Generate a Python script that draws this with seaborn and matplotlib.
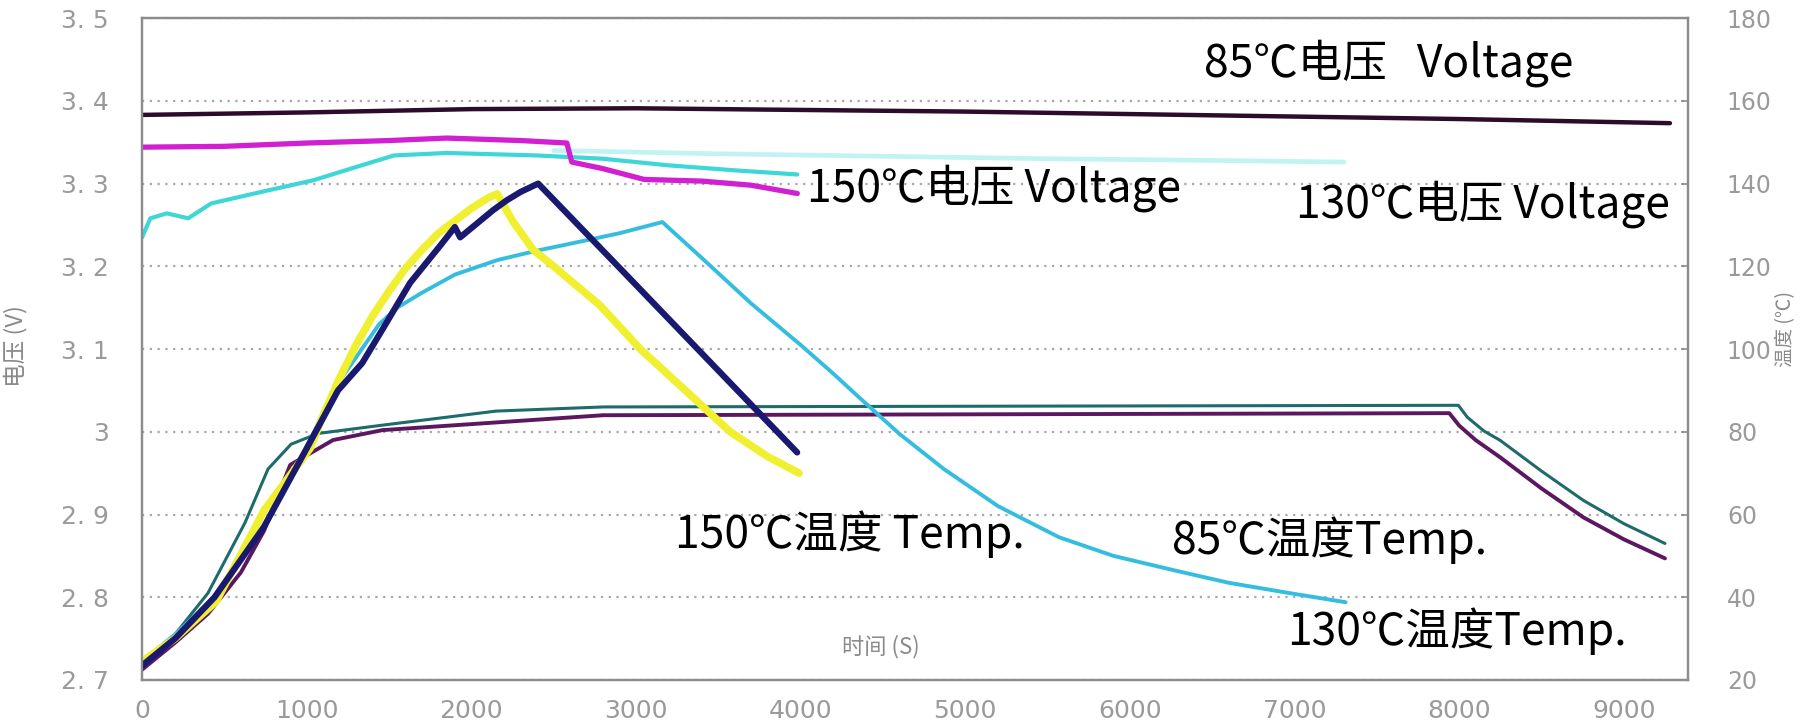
import matplotlib
matplotlib.use("Agg")
import matplotlib.pyplot as plt
import seaborn as sns
import numpy as np

# ---------------- data ----------------
# voltage series (left axis, V)
t_v85 = [0, 1000, 2000, 3000, 4000, 5000, 6000, 7000, 8000, 9280]
v_85 = [3.383, 3.386, 3.390, 3.391, 3.389, 3.387, 3.384, 3.381, 3.378, 3.373]

t_v150a = [0, 500, 1000, 1500, 1850, 2300, 2580, 2610, 2800, 3050, 3400, 3700, 3980]
v_150a = [3.344, 3.345, 3.349, 3.352, 3.355, 3.352, 3.349, 3.326, 3.318, 3.305, 3.303, 3.298, 3.288]

t_v150b = [0, 50, 150, 280, 420, 770, 1040, 1300, 1530, 1850, 2400, 2800, 3200, 3600, 3980]
v_150b = [3.235, 3.258, 3.264, 3.258, 3.276, 3.292, 3.304, 3.320, 3.334, 3.337, 3.334, 3.330, 3.322, 3.316, 3.311]

t_v130 = [2500, 3500, 4500, 5500, 6500, 7300]
v_130 = [3.340, 3.336, 3.333, 3.330, 3.328, 3.326]

# temperature series (right axis, deg C)
t_t85a = [0, 200, 400, 625, 765, 905, 1070, 1460, 2150, 2800, 7995, 8050, 8150, 8250, 8500, 8755, 9000, 9250]
T_85a = [24, 31, 41, 58, 71, 77, 79.6, 81.6, 85, 86, 86.4, 83.5, 80.2, 77.9, 70.5, 63.4, 57.8, 53]

t_t85b = [0, 200, 400, 600, 740, 900, 1160, 1460, 2800, 7940, 8000, 8100, 8250, 8500, 8755, 9000, 9250]
T_85b = [22.5, 29, 36, 46, 56, 72, 78, 80.4, 84, 84.5, 81.5, 78, 73.8, 66.3, 59.3, 54, 49.4]

t_t130 = [0, 200, 438, 741, 996, 1185, 1300, 1440, 1550, 1695, 1900, 2157, 2400, 2582, 2900, 3160,
          3400, 3700, 4000, 4200, 4350, 4600, 4870, 5200, 5570, 5900, 6270, 6600, 6970, 7310]
T_130 = [24.5, 31, 40, 57, 76, 91.5, 98, 106, 110, 113.5, 118, 121.5, 123.8, 125.3, 128, 130.7,
         122, 111, 101, 94, 88.5, 79.5, 71, 62, 54.5, 50, 46.5, 43.5, 41, 38.8]

t_t150y = [0, 200, 450, 741, 1021, 1100, 1200, 1300, 1400, 1500, 1600, 1700, 1800, 1900, 2000, 2100, 2157,
           2250, 2375, 2500, 2783, 3026, 3300, 3572, 3800, 3990]
T_150y = [24.5, 30, 39, 61, 76, 84, 93, 101, 108, 114, 119.5, 124, 128, 131, 134, 136.5, 137.5,
          131, 124, 120, 110.5, 100, 90, 80, 74, 70]

t_t150n = [0, 200, 440, 740, 1000, 1190, 1337, 1464, 1628, 1811, 1900, 1932, 2133, 2217, 2300, 2406, 2983, 3493, 3979]
T_150n = [23.5, 30, 40, 57, 76, 90, 96.6, 105, 116, 125, 129.5, 127, 133.6, 136, 138, 140, 116.2, 95.1, 75]

v_ticks = [2.7, 2.8, 2.9, 3.0, 3.1, 3.2, 3.3, 3.4, 3.5]
v_ticklabels = ["2. 7", "2. 8", "2. 9", "3", "3. 1", "3. 2", "3. 3", "3. 4", "3. 5"]
t_ticks = [20, 40, 60, 80, 100, 120, 140, 160, 180]
x_ticks = [0, 1000, 2000, 3000, 4000, 5000, 6000, 7000, 8000, 9000]

annotations = ["85℃电压   Voltage", "150℃电压 Voltage", "130℃电压 Voltage",
               "85℃温度Temp.", "150℃温度 Temp.", "130℃温度Temp."]

# ---------------- styling ----------------
sns.set_theme(style="white")
plt.rcParams["font.family"] = ["DejaVu Sans", "Noto Sans CJK SC"]
CJK = ["Noto Sans CJK SC", "DejaVu Sans"]
gray = "#8c8c8c"
tick_gray = "#9a9a9a"

fig = plt.figure(figsize=(18.1, 7.24), dpi=100)
fig.patch.set_facecolor("white")
ax = fig.add_axes([0.0785, 0.0608, 0.8541, 0.9142])
ax2 = ax.twinx()

kw = dict(sort=False, estimator=None, legend=False)
# voltage lines
sns.lineplot(x=t_v130, y=v_130, ax=ax, color="#c2f3f3", lw=3.4, **kw)
sns.lineplot(x=t_v150b, y=v_150b, ax=ax, color="#3fd6d8", lw=3.0, **kw)
sns.lineplot(x=t_v150a, y=v_150a, ax=ax, color="#d21fd2", lw=3.8, **kw)
sns.lineplot(x=t_v85, y=v_85, ax=ax, color="#2d0b2b", lw=3.2, **kw)

# temperature lines
sns.lineplot(x=t_t85a, y=T_85a, ax=ax2, color="#1e6b6b", lw=2.2, **kw)
sns.lineplot(x=t_t85b, y=T_85b, ax=ax2, color="#5b1860", lw=2.8, **kw)
sns.lineplot(x=t_t130, y=T_130, ax=ax2, color="#35bde0", lw=2.8, **kw)
sns.lineplot(x=t_t150y, y=T_150y, ax=ax2, color="#f0f030", lw=5.5, **kw)
sns.lineplot(x=t_t150n, y=T_150n, ax=ax2, color="#191970", lw=4.5, **kw)

# axes limits / ticks
ax.set_xlim(0, 9390)
ax.set_ylim(2.7, 3.5)
ax2.set_ylim(20, 180)
ax.set_xticks(x_ticks)
ax.set_xticklabels([str(v) for v in x_ticks])
ax.set_yticks(v_ticks)
ax.set_yticklabels(v_ticklabels)
ax2.set_yticks(t_ticks)
ax2.set_yticklabels([str(v) for v in t_ticks])

ax.tick_params(axis="x", direction="in", length=5, width=1.2, color=gray,
               labelsize=18, labelcolor=tick_gray, pad=14)
ax.tick_params(axis="y", length=0, labelsize=18, labelcolor=tick_gray, pad=24)
ax2.tick_params(axis="y", direction="in", length=5, width=1.2, color=gray,
                labelsize=17, labelcolor=tick_gray, pad=28)

# grid (dotted) on the voltage axis
ax.yaxis.grid(True, linestyle=(0, (1, 2.5)), color="#a8a8a8", lw=1.6)
ax.xaxis.grid(False)
ax2.grid(False)
ax.set_axisbelow(True)

for a in (ax, ax2):
    for s in a.spines.values():
        s.set_color(gray)
        s.set_linewidth(1.6)
        s.set_visible(True)
ax2.patch.set_visible(False)

# axis labels
ax.set_xlabel("时间 (S)", family=CJK, fontsize=16, color="#8a8a8a")
ax.xaxis.set_label_coords(0.478, 0.068)
ax.set_ylabel("电压 (V)", family=CJK, fontsize=17, color="#8a8a8a")
ax.yaxis.set_label_coords(-0.074, 0.505)
ax2.set_ylabel("温度 (℃)", family=CJK, fontsize=14, color="#8a8a8a", rotation=90,
               va="center", ha="center")
ax2.yaxis.set_label_coords(1.063, 0.53)

# annotations (figure fraction positions)
ann_pos = [(0.665, 0.913), (0.446, 0.740), (0.716, 0.718),
           (0.6475, 0.254), (0.373, 0.262), (0.711, 0.128)]
for txt, (px, py) in zip(annotations, ann_pos):
    fig.text(px, py, txt, family=CJK, fontsize=32, color="black", ha="left", va="center")

fig.savefig("out.png", dpi=100, facecolor="white")
